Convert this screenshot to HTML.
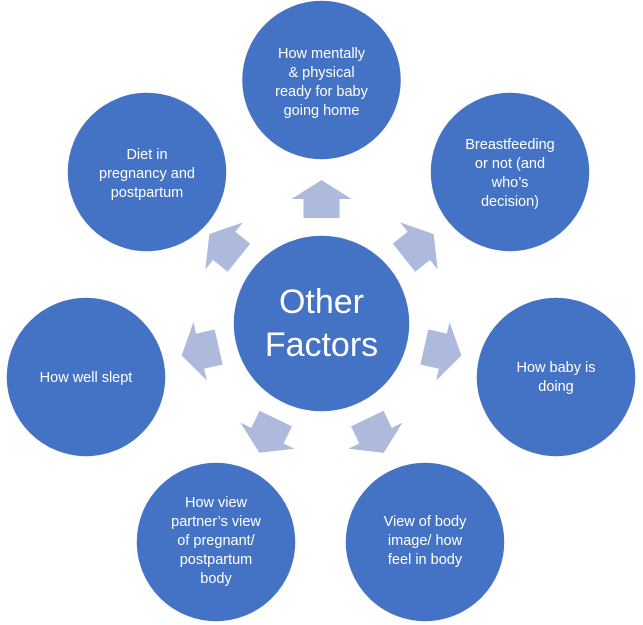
<!DOCTYPE html>
<html><head><style>
html,body{margin:0;padding:0;background:#fff;}
svg{display:block;font-family:"Liberation Sans",sans-serif;}
.t{fill:#fff;font-size:14.5px;text-anchor:middle;}
</style></head><body>
<svg width="643" height="625" viewBox="0 0 643 625">
<g fill="#ADBADC">
<g id="ar"><polygon points="321.5,180 351.5,199 339.5,199 339.5,218 303.5,218 303.5,199 291.5,199"/></g>
<use href="#ar" transform="rotate(51.43 321.5 323.5)"/>
<use href="#ar" transform="rotate(102.86 321.5 323.5)"/>
<use href="#ar" transform="rotate(154.29 321.5 323.5)"/>
<use href="#ar" transform="rotate(205.71 321.5 323.5)"/>
<use href="#ar" transform="rotate(257.14 321.5 323.5)"/>
<use href="#ar" transform="rotate(308.57 321.5 323.5)"/>
</g>
<g fill="#4472C4" stroke="#fff" stroke-width="1.5">
<circle cx="321.5" cy="323.5" r="88.5"/>
<circle cx="321.5" cy="80" r="80"/>
<circle cx="510" cy="172" r="80"/>
<circle cx="556" cy="377" r="80"/>
<circle cx="425" cy="542" r="80"/>
<circle cx="216" cy="542" r="80"/>
<circle cx="86" cy="377" r="80"/>
<circle cx="147" cy="172" r="80"/>
</g>
<text class="t" style="font-size:34px" x="321.5" y="313">Other</text>
<text class="t" style="font-size:34px" x="321.5" y="356">Factors</text>
<text class="t" x="321.5" y="58">How mentally</text>
<text class="t" x="321.5" y="77">&amp; physical</text>
<text class="t" x="321.5" y="96">ready for baby</text>
<text class="t" x="321.5" y="115">going home</text>
<text class="t" x="510" y="149">Breastfeeding</text>
<text class="t" x="510" y="168">or not (and</text>
<text class="t" x="510" y="187">who’s</text>
<text class="t" x="510" y="206">decision)</text>
<text class="t" x="556" y="372">How baby is</text>
<text class="t" x="556" y="391">doing</text>
<text class="t" x="425" y="526">View of body</text>
<text class="t" x="425" y="545">image/ how</text>
<text class="t" x="425" y="564">feel in body</text>
<text class="t" x="216" y="507">How view</text>
<text class="t" x="216" y="526">partner’s view</text>
<text class="t" x="216" y="545">of pregnant/</text>
<text class="t" x="216" y="564">postpartum</text>
<text class="t" x="216" y="583">body</text>
<text class="t" x="86" y="382">How well slept</text>
<text class="t" x="147" y="159">Diet in</text>
<text class="t" x="147" y="178">pregnancy and</text>
<text class="t" x="147" y="197">postpartum</text>
</svg>
</body></html>
